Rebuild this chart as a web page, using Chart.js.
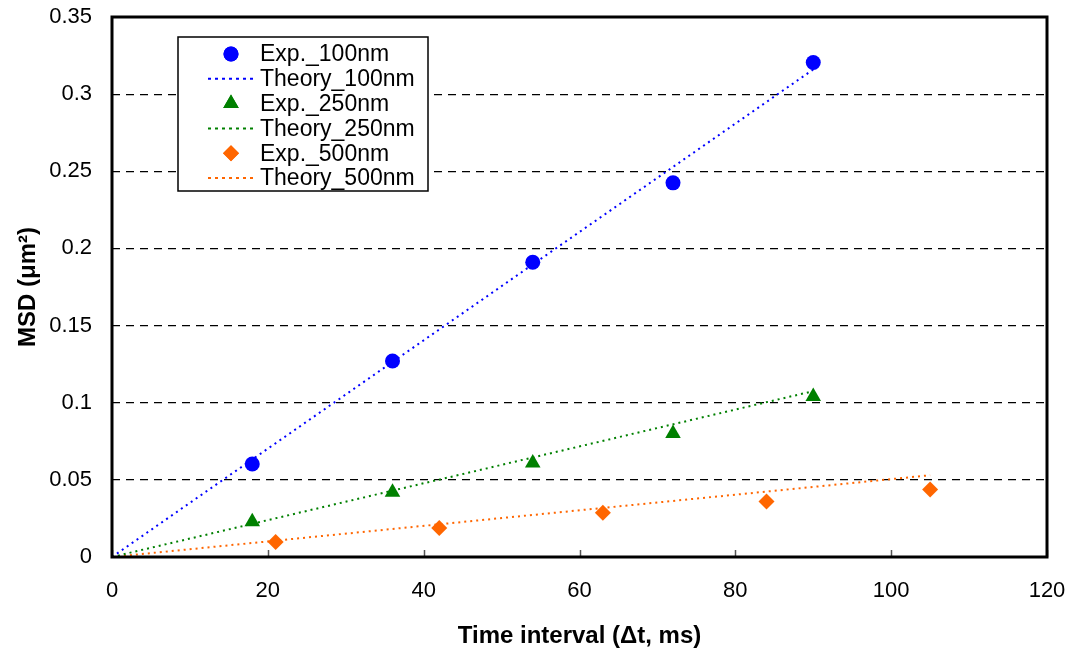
<!DOCTYPE html>
<html>
<head>
<meta charset="utf-8">
<script src="https://cdn.jsdelivr.net/npm/chart.js@4"></script>
<style>
  html, body { margin: 0; padding: 0; background: #fff; }
  #wrap { width: 1078px; height: 656px; }
</style>
</head>
<body>
<div id="wrap"><canvas id="msd-chart" width="1078" height="656"></canvas></div>
<script>
(function () {
  "use strict";

  var timeShort = [18, 36, 54, 72, 90];
  var timeLong = [21, 42, 63, 84, 105];
  var exp100 = [0.0603, 0.127, 0.191, 0.2425, 0.3205];
  var exp250 = [0.0228, 0.042, 0.061, 0.080, 0.104];
  var exp500 = [0.0097, 0.0188, 0.0287, 0.036, 0.0437];

  var theoryX100 = [0, 90];
  var theory100 = [0, 0.316];
  var theoryX250 = [0, 90];
  var theory250 = [0, 0.1075];
  var theoryX500 = [0, 105];
  var theory500 = [0, 0.053];

  var xTicks = [0, 20, 40, 60, 80, 100, 120];
  var yTicks = [0, 0.05, 0.1, 0.15, 0.2, 0.25, 0.3, 0.35];

  var BLUE = "#0000ff";
  var GREEN = "#008000";
  var ORANGE = "#ff6600";
  var FONT = "'Liberation Sans', Arial, sans-serif";

  function pairs(xs, ys) {
    return xs.map(function (x, i) { return { x: x, y: ys[i] }; });
  }

  function expSet(label, xs, ys, color, style, radius) {
    return {
      label: label,
      data: pairs(xs, ys),
      showLine: false,
      pointStyle: style,
      pointRadius: radius,
      pointBackgroundColor: color,
      pointBorderColor: color,
      pointBorderWidth: 0,
      backgroundColor: color,
      borderColor: color,
    };
  }

  function theorySet(label, xs, ys, color) {
    return {
      label: label,
      data: pairs(xs, ys),
      showLine: true,
      borderColor: color,
      borderWidth: 2,
      borderDash: [2, 4],
      pointRadius: 0,
      fill: false,
    };
  }

  var datasets = [
    theorySet("Theory_100nm", theoryX100, theory100, BLUE),
    theorySet("Theory_250nm", theoryX250, theory250, GREEN),
    theorySet("Theory_500nm", theoryX500, theory500, ORANGE),
    expSet("Exp._100nm", timeShort, exp100, BLUE, "circle", 7.5),
    expSet("Exp._250nm", timeShort, exp250, GREEN, "triangle", 9),
    expSet("Exp._500nm", timeLong, exp500, ORANGE, "rectRot", 8),
  ];

  var legendOrder = [3, 0, 4, 1, 5, 2];

  var framePlugin = {
    id: "frame",
    afterDraw: function (chart) {
      var ctx = chart.ctx;
      var a = chart.chartArea;
      var xs = chart.scales.x;
      ctx.save();
      // inward x ticks
      ctx.strokeStyle = "#555";
      ctx.lineWidth = 1.5;
      xTicks.forEach(function (v) {
        var px = Math.round(xs.getPixelForValue(v)) + 0.5;
        ctx.beginPath();
        ctx.moveTo(px, a.bottom);
        ctx.lineTo(px, a.bottom - 7);
        ctx.stroke();
      });
      // plot border
      ctx.strokeStyle = "#000";
      ctx.lineWidth = 3;
      ctx.strokeRect(a.left, a.top, a.right - a.left, a.bottom - a.top);

      // legend box
      var lx = 178, ly = 37, lw = 250, lh = 154;
      ctx.fillStyle = "#fff";
      ctx.fillRect(lx, ly, lw, lh);
      ctx.lineWidth = 1.5;
      ctx.strokeStyle = "#000";
      ctx.strokeRect(lx, ly, lw, lh);
      ctx.font = "23px " + FONT;
      ctx.textBaseline = "middle";
      ctx.textAlign = "left";
      legendOrder.forEach(function (di, row) {
        var ds = chart.data.datasets[di];
        var cy = ly + 17 + row * 24.8;
        if (ds.showLine) {
          ctx.save();
          ctx.strokeStyle = ds.borderColor;
          ctx.lineWidth = 2;
          ctx.setLineDash([3, 4]);
          ctx.beginPath();
          ctx.moveTo(208, cy);
          ctx.lineTo(254, cy);
          ctx.stroke();
          ctx.restore();
        } else {
          ctx.fillStyle = ds.pointBackgroundColor;
          Chart.helpers.drawPoint(ctx, {
            pointStyle: ds.pointStyle,
            radius: ds.pointRadius,
            borderWidth: 0,
          }, 231, cy);
          ctx.fill();
        }
        ctx.fillStyle = "#000";
        ctx.fillText(ds.label, 260, cy + 1);
      });
      ctx.restore();
    },
  };

  new Chart(document.getElementById("msd-chart"), {
    type: "scatter",
    data: { datasets: datasets },
    plugins: [framePlugin],
    options: {
      responsive: false,
      animation: false,
      layout: { padding: { top: 17, right: 31, left: 0, bottom: 0 } },
      plugins: {
        legend: { display: false },
        tooltip: { enabled: false },
      },
      scales: {
        x: {
          type: "linear",
          min: 0,
          max: 120,
          afterBuildTicks: function (scale) {
            scale.ticks = xTicks.map(function (v) { return { value: v }; });
          },
          afterFit: function (scale) {
            scale.height = 99;
            scale.paddingLeft = 0;
            scale.paddingRight = 0;
          },
          grid: { display: false, drawTicks: false },
          border: { display: false },
          ticks: {
            color: "#000",
            padding: 21,
            font: { family: FONT, size: 22 },
          },
          title: {
            display: true,
            text: "Time interval (\u0394t, ms)",
            color: "#000",
            padding: { top: 4, bottom: 5 },
            font: { family: FONT, size: 24, weight: "bold" },
          },
        },
        y: {
          type: "linear",
          min: 0,
          max: 0.35,
          afterBuildTicks: function (scale) {
            scale.ticks = yTicks.map(function (v) { return { value: v }; });
          },
          afterFit: function (scale) {
            scale.width = 112;
            scale.paddingTop = 0;
            scale.paddingBottom = 0;
          },
          grid: {
            color: function (c) {
              return c.tick && (c.tick.value === 0 || c.tick.value === 0.35) ? "rgba(0,0,0,0)" : "#000";
            },
            lineWidth: 1.2,
            drawTicks: false,
          },
          border: { display: false, dash: [8, 6] },
          ticks: {
            color: "#000",
            padding: 20,
            font: { family: FONT, size: 22 },
            callback: function (v) { return String(v); },
          },
          title: {
            display: true,
            text: "MSD (\u03bcm\u00b2)",
            color: "#000",
            padding: { top: 14, bottom: 0 },
            font: { family: FONT, size: 24, weight: "bold" },
          },
        },
      },
    },
  });
})();
</script>
</body>
</html>
